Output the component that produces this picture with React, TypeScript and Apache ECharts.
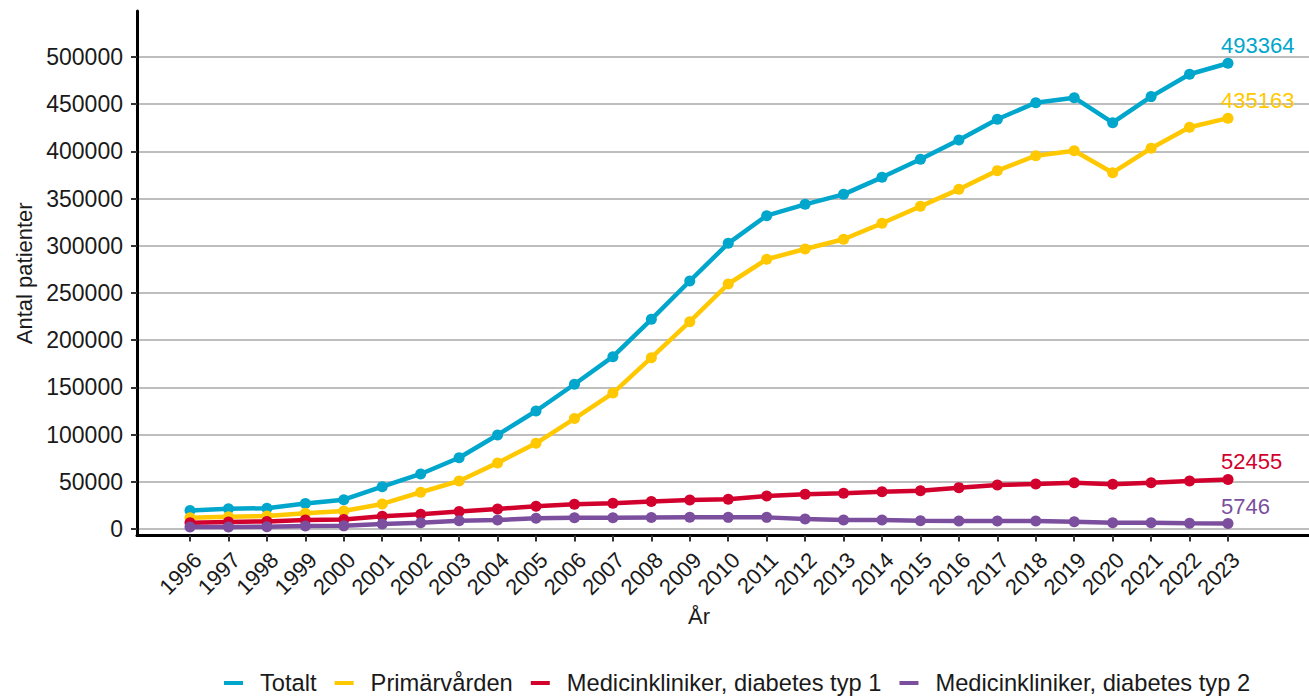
import React, { useEffect, useRef } from "react";
import * as echarts from "echarts";

const years = [1996, 1997, 1998, 1999, 2000, 2001, 2002, 2003, 2004, 2005, 2006, 2007, 2008, 2009, 2010, 2011, 2012, 2013, 2014, 2015, 2016, 2017, 2018, 2019, 2020, 2021, 2022, 2023];

const totalt = [19500, 21500, 22000, 27000, 31000, 44800, 58300, 75500, 99600, 125000, 153300, 182500, 222100, 262700, 302600, 331900, 343900, 354500, 372500, 391600, 412000, 434000, 451600, 456900, 430400, 458000, 481700, 493364];
const primarvarden = [12000, 13000, 13800, 16600, 19000, 26500, 38900, 50800, 70000, 90800, 117000, 144000, 181500, 219600, 259500, 285700, 296600, 306900, 323800, 341800, 359800, 379600, 395400, 400700, 377400, 403300, 425500, 435163];
const typ1 = [6500, 7500, 8000, 9500, 10000, 13500, 15500, 18400, 21200, 24000, 26100, 27200, 29000, 30700, 31400, 35000, 36700, 37800, 39500, 40600, 43800, 46600, 47700, 49000, 47300, 49000, 50800, 52455];
const typ2 = [2000, 2200, 2300, 3200, 3300, 5300, 6700, 8800, 9500, 11300, 12000, 12000, 12200, 12400, 12300, 12300, 10600, 9500, 9500, 8800, 8500, 8500, 8400, 7700, 6700, 6600, 6000, 5746];

const seriesNames = ["Totalt", "Primärvården", "Medicinkliniker, diabetes typ 1", "Medicinkliniker, diabetes typ 2"];
const seriesValues = [totalt, primarvarden, typ1, typ2];
const colors = ["#00A6CC", "#FFC800", "#D2002D", "#7B4F9E"];
const yTicks = [0, 50000, 100000, 150000, 200000, 250000, 300000, 350000, 400000, 450000, 500000];

const FONT = "Liberation Sans, Arial, Helvetica, sans-serif";
const FS = 23;

export default function App() {
  const ref = useRef<HTMLDivElement>(null);
  useEffect(() => {
    if (!ref.current) return;
    const chart = echarts.init(ref.current, null, { renderer: "svg" });
    const series = seriesNames.map((name, si) => ({
      name,
      type: "line",
      data: years.map((y, i) => {
        const item: any = { value: [y, seriesValues[si][i]] };
        if (i === years.length - 1) {
          item.label = {
            show: true,
            position: "top",
            align: "left",
            offset: [-7, 0],
            distance: 1,
            formatter: String(seriesValues[si][i]),
            color: colors[si],
            fontSize: 22,
            fontFamily: FONT,
          };
        }
        return item;
      }),
      symbol: "circle",
      symbolSize: 11,
      showSymbol: true,
      lineStyle: { width: 4.5, color: colors[si] },
      itemStyle: { color: colors[si] },
      z: 2 + si,
    }));
    chart.setOption({
      animation: false,
      color: colors,
      textStyle: { fontFamily: FONT },
      grid: { left: 137, right: 0, top: 11, bottom: 160.5, containLabel: false },
      legend: {
        data: seriesNames,
        left: 224,
        top: 671,
        padding: 0,
        icon: "rect",
        itemWidth: 19,
        itemHeight: 4,
        itemGap: 18,
        textStyle: { fontSize: 23.7, color: "#1a1a1a", fontFamily: FONT, padding: [0, 0, 0, 12] },
      },
      xAxis: {
        type: "value",
        min: 1994.621,
        max: 2025.107,
        axisLine: { show: true, onZero: false, lineStyle: { color: "#000", width: 3 } },
        axisTick: { show: true, customValues: years, length: 6, lineStyle: { color: "#333", width: 2 } },
        axisLabel: {
          customValues: years,
          rotate: 45,
          verticalAlign: "top",
          margin: 13,
          fontSize: 22,
          color: "#1a1a1a",
          fontFamily: FONT,
          formatter: (v: number) => String(v),
        },
        splitLine: { show: false },
      },
      yAxis: {
        type: "value",
        min: -6900,
        max: 548700,
        name: "Antal patienter",
        nameLocation: "middle",
        nameGap: 100,
        nameTextStyle: { fontSize: 22, color: "#1a1a1a", fontFamily: FONT },
        axisLine: { show: true, onZero: false, lineStyle: { color: "#000", width: 3 } },
        axisTick: { show: true, customValues: yTicks, length: 6, lineStyle: { color: "#333", width: 2 } },
        axisLabel: {
          customValues: yTicks,
          margin: 14,
          fontSize: FS,
          color: "#1a1a1a",
          fontFamily: FONT,
          formatter: (v: number) => String(v),
        },
        splitLine: { show: true, lineStyle: { color: "#bebebe", width: 2 } },
      },
      graphic: [
        {
          type: "text",
          left: 688,
          top: 605,
          style: { text: "År", fontSize: 22, fill: "#1a1a1a", fontFamily: FONT },
        },
      ],
      series,
    });
    return () => chart.dispose();
  }, []);
  return <div ref={ref} style={{ position: "absolute", left: 0, top: 0, width: 1309, height: 696 }} />;
}
